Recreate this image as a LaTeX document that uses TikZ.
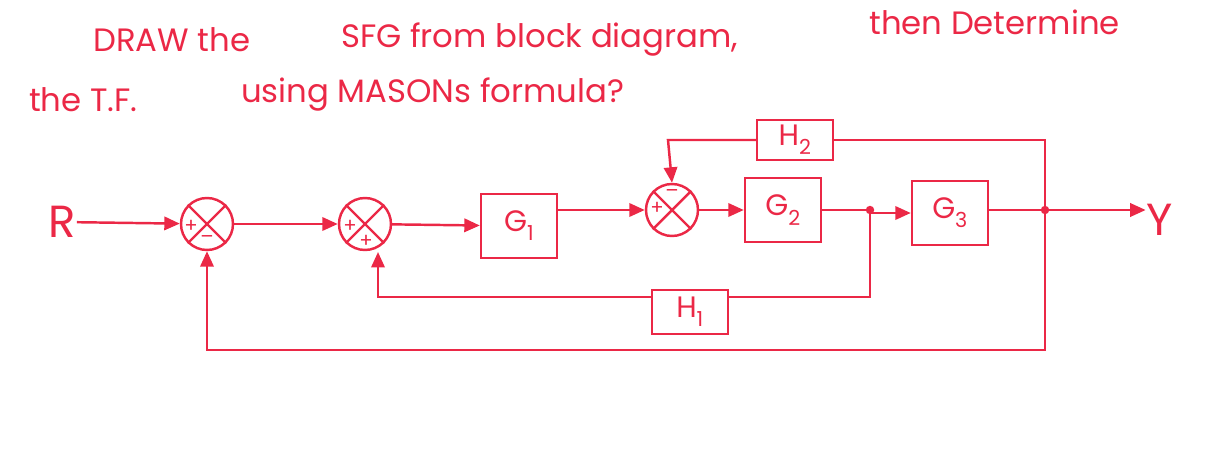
\documentclass[tikz,border=0pt]{standalone}
\usepackage{fontspec}
\setmainfont{Poppins}
\usetikzlibrary{arrows.meta}
\definecolor{ink}{RGB}{235,40,70}
\begin{document}
\begin{tikzpicture}[x=0.05cm,y=-0.05cm,line width=3.5pt,draw=ink,
  sum/.style={circle,draw=ink,minimum size=2.6cm,inner sep=0pt},
  blk/.style={rectangle,draw=ink,minimum width=3.8cm,minimum height=3.2cm,text=ink,font=\fontsize{42}{48}\selectfont},
  lbl/.style={text=ink,font=\fontsize{28}{32}\selectfont,inner sep=0pt},
  ttl/.style={text=ink,font=\fontsize{46}{54}\selectfont,inner sep=0pt,anchor=west},
  arr/.style={-{Triangle[length=22pt,width=19pt]}}]
\useasboundingbox (0,0) rectangle (1211,469);
\node[ttl] (t1) at (92,40) {DRAW the};
\node[ttl] (t2) at (340,40) {SFG from block diagram,};
\node[ttl] (t3) at (868,22) {then Determine};
\node[ttl] (t4) at (28,100) {the T.F.};
\node[ttl] (t5) at (240,95) {using MASONs formula?};

\node[text=ink,font=\fontsize{64}{70}\selectfont,inner sep=0pt] (R) at (62,222) {R};
\node[sum] (s1) at (207,224) {};
\node[sum] (s2) at (365,224) {};
\node[sum] (s3) at (672,210) {};
\foreach \s in {s1,s2,s3}{\draw (\s.north west)--(\s.south east) (\s.north east)--(\s.south west);}
\node[lbl] at (191,226) {+}; \node[lbl] at (207,240) {--};
\node[lbl] at (350,226) {+}; \node[lbl] at (366,241) {+};
\node[lbl] at (657,208) {+}; \node[lbl] at (672,194) {--};

\node[blk] (G1) at (519,226) {G\textsubscript{1}};
\node[blk] (G2) at (783,210) {G\textsubscript{2}};
\node[blk,minimum height=2cm] (H2) at (795,140) {H\textsubscript{2}};
\node[blk] (G3) at (950,213) {G\textsubscript{3}};
\node[blk,minimum height=2.2cm] (H1) at (690,312) {H\textsubscript{1}};
\node[text=ink,font=\fontsize{64}{70}\selectfont,inner sep=0pt] (Y) at (1160,220) {Y};

\coordinate (b1) at (870,210);
\coordinate (b2) at (1045,210);
\draw[arr] (R)--(s1);
\draw[arr] (s1)--(s2);
\draw[arr] (s2)--(G1);
\draw[arr] (G1.east |- s3) -- (s3);
\draw[arr] (s3)--(G2);
\draw (G2.east |- b1)--(b1);
\draw[arr] (b1)--(b1|-G3)--(G3);
\draw (G3.east|-b2)--(b2);
\draw[arr] (b2)--(Y.west|-b2);
\fill[ink] (b1) circle (6pt) (b2) circle (6pt);
\draw (b1)--(870,297)--(H1.east|-{(0,297)});
\draw[arr] (H1.west|-{(0,297)})--(378,297)--(378,252);
\draw (b2)--(1045,140)--(H2.east);
\draw[arr] (H2.west)--(668,140)--(s3.north);
\draw[arr] (b2)--(1045,350)--(207,350)--(s1.south);
\end{tikzpicture}
\end{document}
